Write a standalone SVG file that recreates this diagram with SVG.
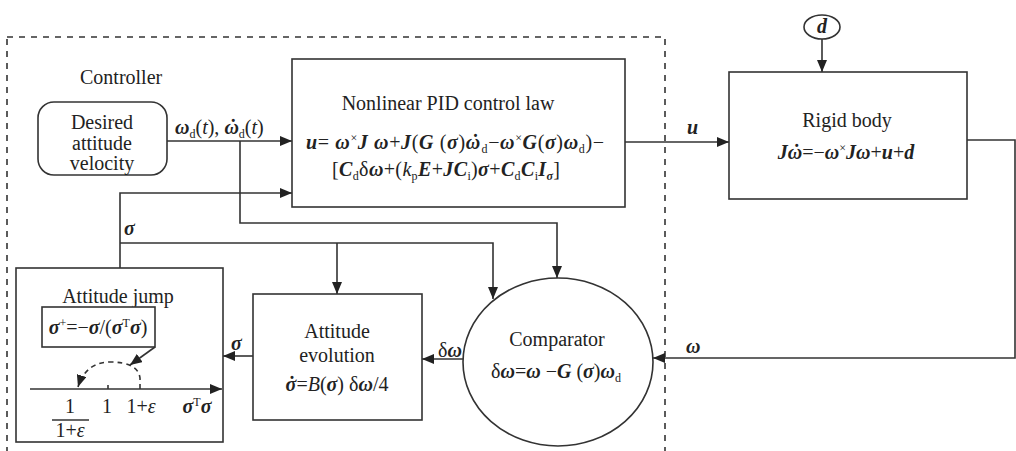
<svg xmlns="http://www.w3.org/2000/svg" width="1016" height="451" viewBox="0 0 1016 451">
<style>
text{font-family:"Liberation Serif","Times New Roman",serif;font-size:20px;fill:#222}
.m{text-anchor:middle}
.bi{font-weight:bold;font-style:italic}
.it{font-style:italic}
.box{fill:#fff;stroke:#333;stroke-width:1.6}
.ln{fill:none;stroke:#333;stroke-width:1.6}
.sub{font-size:12px}
.sup{font-size:12px}
</style>
<defs>
<marker id="ah" markerUnits="userSpaceOnUse" markerWidth="12" markerHeight="10" refX="12" refY="5" orient="auto">
<path d="M0,0 L12,5 L0,10 Z" fill="#222"/>
</marker>
</defs>
<rect width="1016" height="451" fill="#fff"/>
<rect x="7" y="37" width="658" height="420" fill="none" stroke="#333" stroke-width="1.6" stroke-dasharray="6,6"/>
<text x="80" y="84">Controller</text>

<g id="connectors">
<path class="ln" d="M167,141 H292" marker-end="url(#ah)"/>
<path class="ln" d="M240,141 V223 H557 V278" marker-end="url(#ah)"/>
<path class="ln" d="M120,268 V193 H292" marker-end="url(#ah)"/>
<path class="ln" d="M120,243 H493 V299" marker-end="url(#ah)"/>
<path class="ln" d="M337,243 V294" marker-end="url(#ah)"/>
<path class="ln" d="M463,359 H422" marker-end="url(#ah)"/>
<path class="ln" d="M253,356 H223" marker-end="url(#ah)"/>
<path class="ln" d="M625,142 H729" marker-end="url(#ah)"/>
<path class="ln" d="M822,39 V72" marker-end="url(#ah)"/>
<path class="ln" d="M967,140 H1015 V358 H653" marker-end="url(#ah)"/>
<text x="175" y="134"><tspan class="bi">ω</tspan><tspan class="sub" dy="4">d</tspan><tspan dy="-4">(</tspan><tspan class="it">t</tspan>), <tspan class="bi">ω</tspan><tspan class="bi" dx="-10">˙</tspan><tspan class="sub" dx="3.3" dy="4">d</tspan><tspan dy="-4">(</tspan><tspan class="it">t</tspan>)</text>
<text x="124" y="235" class="bi">σ</text>
<text x="231" y="350" class="bi">σ</text>
<text x="438" y="357">δ<tspan class="bi">ω</tspan></text>
<text x="687" y="134" class="bi">u</text>
<text x="686" y="353" class="bi">ω</text>
</g>

<g id="desired">
<rect x="38" y="102" width="129" height="73" rx="16" class="box"/>
<text x="102" y="129" class="m">Desired</text>
<text x="102" y="150" class="m">attitude</text>
<text x="102" y="170" class="m">velocity</text>
</g>

<g id="pid">
<rect x="292" y="59" width="333" height="148" class="box"/>
<text x="448" y="110" class="m">Nonlinear PID control law</text>
<text x="455" y="149" class="m" textLength="298"><tspan class="bi">u</tspan>= <tspan class="bi">ω</tspan><tspan class="sup" dy="-7">×</tspan><tspan class="bi" dy="7">J ω</tspan>+<tspan class="bi">J</tspan>(<tspan class="bi">G</tspan> (<tspan class="bi">σ</tspan>)<tspan class="bi">ω</tspan><tspan class="bi" dx="-10">˙</tspan><tspan class="sub" dx="3.3" dy="4">d</tspan><tspan dy="-4">−</tspan><tspan class="bi">ω</tspan><tspan class="sup" dy="-7">×</tspan><tspan class="bi" dy="7">G</tspan>(<tspan class="bi">σ</tspan>)<tspan class="bi">ω</tspan><tspan class="sub" dy="4">d</tspan><tspan dy="-4">)−</tspan></text>
<text x="446" y="176" class="m" textLength="228"><tspan>[</tspan><tspan class="bi">C</tspan><tspan class="sub" dy="4">d</tspan><tspan dy="-4">δ</tspan><tspan class="bi">ω</tspan>+(<tspan class="it">k</tspan><tspan class="sub" dy="4">p</tspan><tspan class="bi" dy="-4">E</tspan>+<tspan class="bi">JC</tspan><tspan class="sub" dy="4">i</tspan><tspan dy="-4">)</tspan><tspan class="bi">σ</tspan>+<tspan class="bi">C</tspan><tspan class="sub" dy="4">d</tspan><tspan class="bi" dy="-4">C</tspan><tspan class="sub" dy="4">i</tspan><tspan class="bi" dy="-4">I</tspan><tspan class="bi sub" dy="4">σ</tspan><tspan dy="-4">]</tspan></text>
</g>

<g id="disturbance">
<ellipse cx="822" cy="27" rx="18" ry="12" class="box"/>
<text x="822" y="33" class="m bi" font-size="18">d</text>
</g>

<g id="rigid">
<rect x="729" y="72" width="238" height="127" class="box"/>
<text x="847" y="127" class="m">Rigid body</text>
<text x="846" y="159" class="m"><tspan class="bi">J</tspan><tspan class="bi">ω</tspan><tspan class="bi" dx="-10">˙</tspan><tspan dx="3.3">=−</tspan><tspan class="bi">ω</tspan><tspan class="sup" dy="-7">×</tspan><tspan class="bi" dy="7">Jω</tspan>+<tspan class="bi">u</tspan>+<tspan class="bi">d</tspan></text>
</g>

<g id="jump">
<rect x="16" y="268" width="207" height="174" class="box"/>
<text x="118" y="303" class="m">Attitude jump</text>
<rect x="42" y="307" width="113" height="40" class="box"/>
<text x="98" y="334" class="m"><tspan class="bi">σ</tspan><tspan class="sup" dy="-7">+</tspan><tspan dy="7">=−</tspan><tspan class="bi">σ</tspan>/(<tspan class="bi">σ</tspan><tspan class="sup" dy="-7">T</tspan><tspan class="bi" dy="7">σ</tspan>)</text>
<path class="ln" d="M30,389 H222" marker-end="url(#ah)"/>
<path class="ln" d="M108,385 V389"/>
<path class="ln" d="M155,347 L130,365" marker-end="url(#ah)"/>
<path class="ln" d="M140,389 V378 Q138,362 110,362 Q86,362 78,387" stroke-dasharray="5,4" marker-end="url(#ah)"/>
<text x="70" y="413" class="m" font-size="18">1</text>
<path class="ln" d="M52,420 H89" stroke-width="1.2"/>
<text x="70" y="437" class="m" font-size="18">1+<tspan class="it">ε</tspan></text>
<text x="107" y="413" class="m" font-size="18">1</text>
<text x="141" y="413" class="m" font-size="18">1+<tspan class="it">ε</tspan></text>
<text x="197" y="413" class="m"><tspan class="bi">σ</tspan><tspan class="sup" dy="-7">T</tspan><tspan class="bi" dy="7">σ</tspan></text>
</g>

<g id="evolution">
<rect x="253" y="294" width="169" height="126" class="box"/>
<text x="337" y="338" class="m">Attitude</text>
<text x="337" y="362" class="m">evolution</text>
<text x="337" y="391" class="m"><tspan class="bi">σ</tspan><tspan class="bi" dx="-8.8">˙</tspan><tspan dx="2.2">=</tspan><tspan class="it">B</tspan>(<tspan class="bi">σ</tspan>) δ<tspan class="bi">ω</tspan>/4</text>
</g>

<g id="comparator">
<ellipse cx="558" cy="362" rx="95" ry="84" class="box"/>
<text x="557" y="346" class="m">Comparator</text>
<text x="556" y="378" class="m">δ<tspan class="bi">ω</tspan>=<tspan class="bi">ω</tspan> −<tspan class="bi">G</tspan> (<tspan class="bi">σ</tspan>)<tspan class="bi">ω</tspan><tspan class="sub" dy="4">d</tspan></text>
</g>
</svg>
